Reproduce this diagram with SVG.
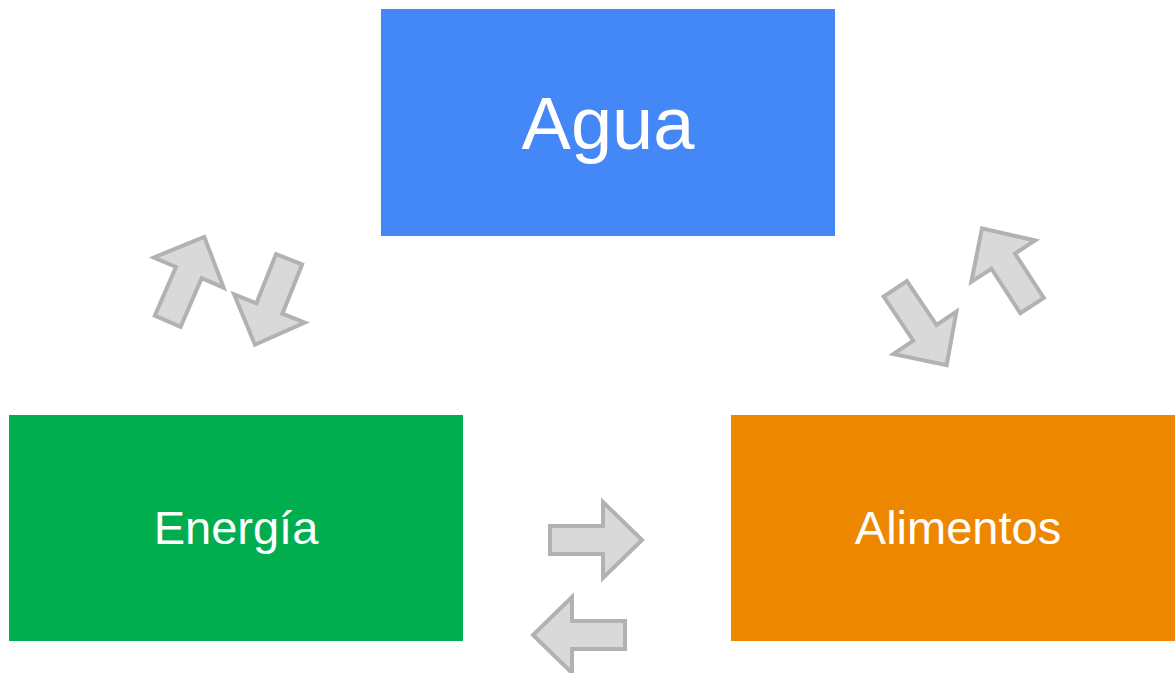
<svg xmlns="http://www.w3.org/2000/svg" width="1175" height="673" viewBox="0 0 1175 673">
<style>
.lbl{font-family:"Liberation Sans",Arial,sans-serif;fill:#ffffff;text-anchor:middle}
.arr{fill:#d9d9d9;stroke:#b2b2b2;stroke-width:4;stroke-linejoin:miter}
</style>
<defs>
<path id="arrow" d="M-46,-14 L7,-14 L7,-38 L46,0 L7,38 L7,14 L-46,14 Z"/>
</defs>
<rect width="1175" height="673" fill="#ffffff"/>
<g id="agua">
<rect x="381" y="9" width="454" height="227" fill="#4487f6"/>
<text class="lbl" x="608" y="149" font-size="74">Agua</text>
</g>
<g id="energia">
<rect x="9" y="415" width="454" height="226" fill="#00ae50"/>
<text class="lbl" x="236" y="544" font-size="47">Energía</text>
</g>
<g id="alimentos">
<rect x="731" y="415" width="454" height="226" fill="#ee8700"/>
<text class="lbl" x="958" y="544" font-size="47">Alimentos</text>
</g>
<g id="connectors">
<use href="#arrow" class="arr" transform="translate(596,540)"/>
<use href="#arrow" class="arr" transform="translate(579,635) rotate(180)"/>
<use href="#arrow" class="arr" transform="translate(186,279) rotate(-66.6)"/>
<use href="#arrow" class="arr" transform="translate(272,302) rotate(111.8)"/>
<use href="#arrow" class="arr" transform="translate(921,327) rotate(56.1)"/>
<use href="#arrow" class="arr" transform="translate(1007,267) rotate(-123)"/>
</g>
</svg>
